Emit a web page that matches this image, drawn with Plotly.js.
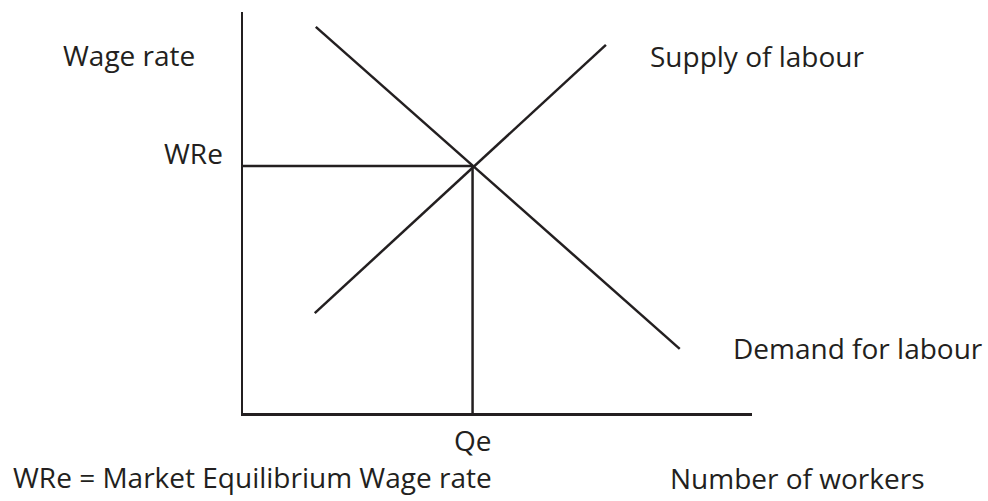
<!DOCTYPE html>
<html>
<head>
<meta charset="utf-8">
<script src="https://cdn.plot.ly/plotly-3.0.1.min.js"></script>
<style>
  html, body { margin: 0; padding: 0; background: #ffffff; }
  #chart { width: 988px; height: 501px; }
</style>
</head>
<body>
<div id="chart"></div>
<script>
// ---- Data (axis units: 0..10 on both axes) ----
const demandQty = [1.43, 8.58];
const demandWage = [9.63, 1.60];
const supplyQty = [1.41, 7.13];
const supplyWage = [2.49, 9.18];
const equilibriumQty = 4.51;
const equilibriumWage = 6.16;

const seriesNames = ["Demand for labour", "Supply of labour"];
const axisTitles = { x: "Number of workers", y: "Wage rate" };
const tickLabels = { x: "Qe", y: "WRe" };
const noteText = "WRe = Market Equilibrium Wage rate";

const ink = "#231f20";
const lw = 2.5;
const fontFamily = "'Open Sans', 'DejaVu Sans', sans-serif";
const fs = 28;

const traces = [
  { x: demandQty, y: demandWage, name: seriesNames[0] },
  { x: supplyQty, y: supplyWage, name: seriesNames[1] },
  { x: [0, equilibriumQty], y: [equilibriumWage, equilibriumWage], name: "WRe line" },
  { x: [equilibriumQty, equilibriumQty], y: [0, equilibriumWage], name: "Qe line" }
].map(t => Object.assign(t, {
  type: "scatter", mode: "lines", cliponaxis: false, hoverinfo: "skip",
  line: { color: ink, width: lw }
}));

const txtFont = { family: fontFamily, size: fs, color: ink };
function ann(o) {
  return Object.assign({ showarrow: false, font: txtFont, borderpad: 0 }, o);
}

const layout = {
  width: 988, height: 501,
  margin: { l: 243, r: 236, t: 12, b: 88, pad: 0 },
  paper_bgcolor: "#ffffff", plot_bgcolor: "#ffffff",
  showlegend: false,
  xaxis: {
    range: [0, 10], showline: true, linecolor: ink, linewidth: lw,
    showgrid: false, zeroline: false, showticklabels: false, ticks: "", fixedrange: true
  },
  yaxis: {
    range: [0, 10], showline: true, linecolor: ink, linewidth: lw,
    showgrid: false, zeroline: false, showticklabels: false, ticks: "", fixedrange: true
  },
  annotations: [
    ann({ text: axisTitles.y, xref: "paper", yref: "paper", x: -0.223, y: 0.893, xanchor: "center", yanchor: "middle" }),
    ann({ text: tickLabels.y, xref: "paper", yref: "y", x: -0.0373, y: equilibriumWage, yshift: 13, xanchor: "right", yanchor: "middle" }),
    ann({ text: seriesNames[1], xref: "paper", yref: "paper", x: 0.7976, y: 0.8915, xanchor: "left", yanchor: "middle" }),
    ann({ text: seriesNames[0], xref: "paper", yref: "paper", x: 0.9607, y: 0.1633, xanchor: "left", yanchor: "middle" }),
    ann({ text: tickLabels.x, xref: "x", yref: "paper", x: equilibriumQty, y: -0.0673, xanchor: "center", yanchor: "middle" }),
    ann({ text: noteText, xref: "paper", yref: "paper", x: -0.4538, y: -0.1608, xanchor: "left", yanchor: "middle" }),
    ann({ text: axisTitles.x, xref: "paper", yref: "paper", x: 0.8369, y: -0.1621, xanchor: "left", yanchor: "middle" })
  ]
};

Plotly.newPlot("chart", traces, layout, { staticPlot: true, displayModeBar: false });
</script>
</body>
</html>
